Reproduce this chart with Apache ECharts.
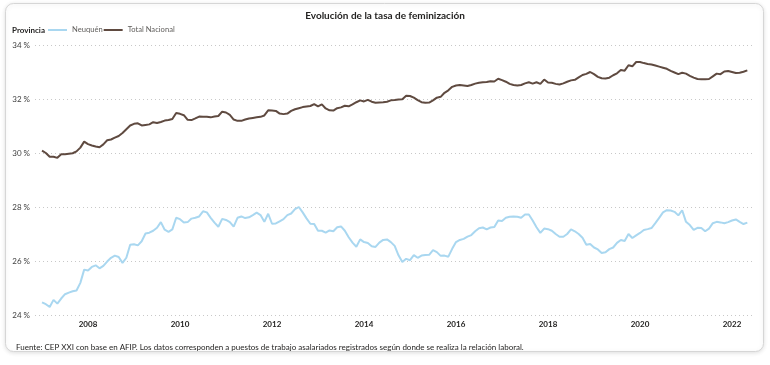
<!DOCTYPE html>
<html>
<head>
<meta charset="utf-8">
<script src="https://cdn.jsdelivr.net/npm/echarts@6/dist/echarts.min.js"></script>
<style>
html,body{margin:0;padding:0;background:#ffffff;}
#chart{width:770px;height:365px;}
</style>
</head>
<body>
<div id="chart"></div>
<script>
const titleText = 'Evolución de la tasa de feminización';
const legendTitle = 'Provincia';
const seriesNames = ['Neuquén', 'Total Nacional'];
const footnote = 'Fuente: CEP XXI con base en AFIP. Los datos corresponden a puestos de trabajo asalariados registrados según donde se realiza la relación laboral.';
const startYear = 2007;
const yearTicks = [2008, 2010, 2012, 2014, 2016, 2018, 2020, 2022];
const yTicks = [24, 26, 28, 30, 32, 34];

const totalNacional = [
  30.09, 30.00, 29.86, 29.86, 29.82, 29.95, 29.95, 29.97, 29.99, 30.06,
  30.20, 30.42, 30.33, 30.28, 30.24, 30.21, 30.32, 30.47, 30.50, 30.57,
  30.63, 30.74, 30.88, 31.02, 31.08, 31.10, 31.02, 31.04, 31.06, 31.14,
  31.11, 31.15, 31.20, 31.22, 31.26, 31.48, 31.45, 31.40, 31.23, 31.22,
  31.28, 31.35, 31.34, 31.34, 31.32, 31.35, 31.37, 31.53, 31.50, 31.41,
  31.24, 31.19, 31.19, 31.24, 31.28, 31.30, 31.32, 31.34, 31.39, 31.58,
  31.57, 31.56, 31.46, 31.44, 31.46, 31.56, 31.62, 31.66, 31.70, 31.72,
  31.74, 31.81, 31.73, 31.80, 31.65, 31.58, 31.57, 31.66, 31.69, 31.75,
  31.73, 31.80, 31.88, 31.95, 31.91, 31.97, 31.90, 31.86, 31.87, 31.88,
  31.90, 31.95, 31.96, 31.98, 31.99, 32.12, 32.11, 32.05, 31.96, 31.88,
  31.86, 31.87, 31.95, 32.05, 32.08, 32.23, 32.32, 32.45, 32.50, 32.52,
  32.50, 32.48, 32.52, 32.57, 32.60, 32.62, 32.63, 32.66, 32.65, 32.75,
  32.70, 32.64, 32.56, 32.52, 32.50, 32.52, 32.58, 32.62, 32.57, 32.62,
  32.56, 32.72, 32.61, 32.60, 32.56, 32.54, 32.58, 32.64, 32.69, 32.71,
  32.80, 32.89, 32.93, 33.00, 32.92, 32.82, 32.77, 32.76, 32.79, 32.88,
  32.95, 33.07, 33.05, 33.25, 33.21, 33.37, 33.37, 33.33, 33.30, 33.28,
  33.24, 33.20, 33.16, 33.12, 33.04, 32.98, 32.92, 32.97, 32.94, 32.86,
  32.79, 32.74, 32.73, 32.73, 32.74, 32.84, 32.94, 32.92, 33.02, 33.04,
  33.00, 32.96, 32.97, 33.01, 33.06
];

const neuquen = [
  24.47, 24.40, 24.30, 24.56, 24.42, 24.61, 24.77, 24.83, 24.88, 24.91,
  25.19, 25.68, 25.65, 25.78, 25.84, 25.73, 25.82, 25.98, 26.12, 26.20,
  26.15, 25.93, 26.12, 26.60, 26.62, 26.58, 26.73, 27.02, 27.05, 27.12,
  27.23, 27.44, 27.16, 27.08, 27.17, 27.60, 27.55, 27.43, 27.44, 27.57,
  27.60, 27.65, 27.84, 27.80, 27.60, 27.42, 27.27, 27.56, 27.52, 27.44,
  27.27, 27.60, 27.65, 27.59, 27.62, 27.70, 27.79, 27.70, 27.45, 27.75,
  27.38, 27.39, 27.47, 27.55, 27.70, 27.76, 27.92, 28.00, 27.80, 27.58,
  27.38, 27.37, 27.12, 27.12, 27.05, 27.13, 27.10, 27.25, 27.28, 27.12,
  26.88, 26.68, 26.53, 26.80, 26.70, 26.67, 26.55, 26.52, 26.68, 26.78,
  26.80, 26.70, 26.56, 26.21, 25.96, 26.08, 26.03, 26.22, 26.12, 26.20,
  26.22, 26.23, 26.40, 26.33, 26.19, 26.20, 26.16, 26.45, 26.70, 26.78,
  26.82, 26.90, 26.96, 27.10, 27.21, 27.24, 27.17, 27.24, 27.26, 27.50,
  27.48, 27.60, 27.64, 27.65, 27.64, 27.60, 27.72, 27.72, 27.50, 27.25,
  27.04, 27.20, 27.18, 27.12, 27.00, 26.90, 26.90, 27.00, 27.17, 27.10,
  27.00, 26.86, 26.60, 26.63, 26.50, 26.43, 26.30, 26.32, 26.44, 26.50,
  26.67, 26.78, 26.74, 27.00, 26.85, 26.95, 27.04, 27.15, 27.18, 27.22,
  27.40, 27.60, 27.80, 27.88, 27.87, 27.82, 27.69, 27.88, 27.45, 27.33,
  27.15, 27.23, 27.22, 27.10, 27.20, 27.40, 27.45, 27.43, 27.40, 27.44,
  27.50, 27.54, 27.45, 27.37, 27.42
];

// month index (0 = Jan 2007)
const monthIndex = totalNacional.map((_, i) => i);
const tickMonths = yearTicks.map(y => (y - startYear) * 12);

const FONT = 'Lato, "Open Sans", sans-serif';
const colors = ['#A9D7F0', '#5F4A40'];
const chart = echarts.init(document.getElementById('chart'), null, {renderer: 'canvas'});

chart.setOption({
  animation: false,
  backgroundColor: '#ffffff',
  textStyle: {fontFamily: FONT},
  graphic: [
    {
      type: 'rect', z: -10, silent: true,
      shape: {x: 5.5, y: 3.5, width: 758, height: 348, r: 8},
      style: {fill: '#ffffff', stroke: '#d6d6d6', lineWidth: 1,
              shadowBlur: 4, shadowColor: 'rgba(0,0,0,0.12)', shadowOffsetY: 1}
    },
    {
      type: 'text', left: 12, top: 26,
      style: {text: legendTitle, fontFamily: FONT, fontSize: 8, fontWeight: 'bold', fill: '#252423'}
    }
  ],
  title: [
    {
      text: titleText, left: 'center', top: 6,
      textStyle: {fontFamily: FONT, fontSize: 10, fontWeight: 'bold', color: '#252423'}
    },
    {
      text: footnote, left: 11, top: 338,
      textStyle: {fontFamily: FONT, fontSize: 8, fontWeight: 'normal', color: '#252423'}
    }
  ],
  legend: {
    left: 48, top: 26, padding: 0,
    itemWidth: 19, itemHeight: 2, itemGap: 1,
    icon: 'rect',
    textStyle: {fontFamily: FONT, fontSize: 7.6, color: '#605E5C'},
    data: seriesNames.map((n, k) => ({name: n, icon: 'rect', itemStyle: {color: colors[k]}}))
  },
  grid: {left: 35, right: 15, top: 45, bottom: 50, containLabel: false},
  xAxis: {
    type: 'value',
    min: -1.83, max: 186,
    axisLine: {show: false},
    axisTick: {show: false},
    splitLine: {show: false},
    axisLabel: {
      customValues: tickMonths,
      formatter: v => String(startYear + Math.round(v / 12)),
      fontFamily: FONT, fontSize: 8, fontWeight: 'bold', color: '#252423', margin: 5
    }
  },
  yAxis: {
    type: 'value', min: 24, max: 34, interval: 2,
    axisLine: {show: false}, axisTick: {show: false},
    axisLabel: {formatter: '{value} %', fontFamily: FONT, fontSize: 8, color: '#404040', margin: 5},
    splitLine: {lineStyle: {type: [1, 3], color: '#c8c8c8', width: 1}}
  },
  series: [
    {
      name: seriesNames[0], type: 'line', symbol: 'none', smooth: false,
      lineStyle: {color: colors[0], width: 2},
      itemStyle: {color: colors[0]},
      data: monthIndex.map(i => [i, neuquen[i]])
    },
    {
      name: seriesNames[1], type: 'line', symbol: 'none', smooth: false,
      lineStyle: {color: colors[1], width: 2},
      itemStyle: {color: colors[1]},
      data: monthIndex.map(i => [i, totalNacional[i]])
    }
  ]
});
</script>
</body>
</html>
